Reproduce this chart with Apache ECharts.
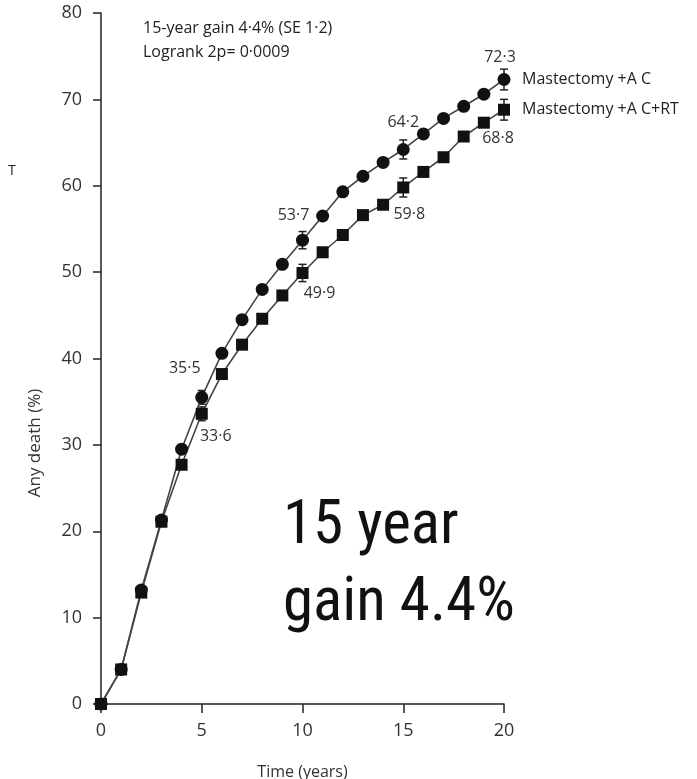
<!DOCTYPE html>
<html>
<head>
<meta charset="utf-8">
<style>
  html, body { margin: 0; padding: 0; background: #fff; }
  #chart { width: 697px; height: 779px; }
</style>
<script src="https://cdn.jsdelivr.net/npm/echarts@6/dist/echarts.min.js"></script>
</head>
<body>
<div id="chart"></div>
<script>
// Cumulative risk of any death (%) by year since randomisation
const years = [0, 1, 2, 3, 4, 5, 6, 7, 8, 9, 10, 11, 12, 13, 14, 15, 16, 17, 18, 19, 20];
const mastAC = [0, 4.0, 13.2, 21.3, 29.5, 35.5, 40.6, 44.5, 48.0, 50.9, 53.7, 56.5, 59.3, 61.1, 62.7, 64.2, 66.0, 67.8, 69.2, 70.6, 72.3];
const mastACRT = [0, 4.0, 12.9, 21.1, 27.7, 33.6, 38.2, 41.6, 44.6, 47.3, 49.9, 52.3, 54.3, 56.6, 57.8, 59.8, 61.6, 63.3, 65.7, 67.3, 68.8];

// Years with standard-error bars and value labels
const labelYears = [5, 10, 15, 20];
const seAC = [0.8, 1.0, 1.1, 1.2];
const seACRT = [0.8, 1.0, 1.1, 1.2];

const seriesNames = ['Mastectomy +A C', 'Mastectomy +A C+RT'];
const xTicks = [0, 5, 10, 15, 20];
const yTicks = [0, 10, 20, 30, 40, 50, 60, 70, 80];

const fmt = v => v.toFixed(1).replace('.', '\u00b7');
const labelFont = "'Open Sans', 'DejaVu Sans', sans-serif";
const bigFont = "'Liberation Sans Narrow', 'Arial Narrow', 'Roboto Condensed', sans-serif";

// label placement per labelled year: [position, offset]
const acLabelPos = {5: ['top', [-17, -9]], 10: ['top', [-9, -5]], 15: ['top', [0, -8]], 20: ['top', [-4, -3]]};
const rtLabelPos = {5: ['bottom', [14, 4]], 10: ['bottom', [17, 1]], 15: ['bottom', [6, 8]], 20: ['bottom', [-6, 10]]};

function buildData(values, posMap) {
  return years.map((yr, i) => {
    const item = { value: [yr, values[i]] };
    if (posMap[yr]) {
      item.label = {
        show: true,
        position: posMap[yr][0],
        offset: posMap[yr][1],
        formatter: () => fmt(values[i]),
        fontSize: 16,
        color: '#333',
        fontFamily: labelFont
      };
    }
    return item;
  });
}

function errorData(values, se) {
  return labelYears.map((yr, k) => [yr, values[years.indexOf(yr)], se[k]]);
}

function renderError(params, api) {
  const x = api.value(0), y = api.value(1), s = api.value(2);
  const top = api.coord([x, y + s]);
  const bot = api.coord([x, y - s]);
  const cap = 4;
  const st = { stroke: '#222', lineWidth: 1.5 };
  return {
    type: 'group',
    children: [
      { type: 'line', shape: { x1: top[0], y1: top[1], x2: bot[0], y2: bot[1] }, style: st },
      { type: 'line', shape: { x1: top[0] - cap, y1: top[1], x2: top[0] + cap, y2: top[1] }, style: st },
      { type: 'line', shape: { x1: bot[0] - cap, y1: bot[1], x2: bot[0] + cap, y2: bot[1] }, style: st }
    ]
  };
}

const chart = echarts.init(document.getElementById('chart'), null, { renderer: 'canvas' });

chart.setOption({
  animation: false,
  backgroundColor: '#fff',
  grid: { left: 101, right: 193, top: 13, bottom: 75, containLabel: false, outerBoundsMode: 'none' },
  xAxis: {
    type: 'value',
    min: xTicks[0],
    max: xTicks[xTicks.length - 1],
    interval: 5,
    name: 'Time (years)',
    nameLocation: 'middle',
    nameGap: 60,
    nameTextStyle: { fontSize: 16, color: '#333', fontFamily: labelFont },
    axisLine: { lineStyle: { color: '#222', width: 1.5 } },
    axisTick: { show: true, length: 9, inside: false, lineStyle: { color: '#222', width: 1.5 } },
    axisLabel: { fontSize: 18, color: '#333', margin: 18, fontFamily: labelFont },
    splitLine: { show: false }
  },
  yAxis: {
    type: 'value',
    min: yTicks[0],
    max: yTicks[yTicks.length - 1],
    interval: 10,
    axisLine: { show: true, lineStyle: { color: '#222', width: 1.5 } },
    axisTick: { show: true, length: 8, inside: false, lineStyle: { color: '#222', width: 1.5 } },
    axisLabel: { fontSize: 18, color: '#333', margin: 19, fontFamily: labelFont },
    splitLine: { show: false }
  },
  series: [
    {
      name: seriesNames[0],
      type: 'line',
      data: buildData(mastAC, acLabelPos),
      symbol: 'circle',
      symbolSize: 13,
      showSymbol: true,
      lineStyle: { color: '#444', width: 1.6 },
      itemStyle: { color: '#111' },
      z: 3,
      endLabel: {
        show: true,
        formatter: seriesNames[0],
        distance: 18,
        fontSize: 16,
        color: '#222',
        fontFamily: labelFont
      }
    },
    {
      name: seriesNames[1],
      type: 'line',
      data: buildData(mastACRT, rtLabelPos),
      symbol: 'rect',
      symbolSize: 12,
      showSymbol: true,
      lineStyle: { color: '#444', width: 1.6 },
      itemStyle: { color: '#111' },
      z: 3,
      endLabel: {
        show: true,
        formatter: seriesNames[1],
        distance: 18,
        fontSize: 16,
        color: '#222',
        fontFamily: labelFont
      }
    },
    {
      type: 'custom',
      renderItem: renderError,
      data: errorData(mastAC, seAC),
      z: 2,
      silent: true
    },
    {
      type: 'custom',
      renderItem: renderError,
      data: errorData(mastACRT, seACRT),
      z: 2,
      silent: true
    }
  ],
  graphic: [
    {
      type: 'text', left: 143, top: 20,
      style: { text: '15-year gain 4\u00b74% (SE 1\u00b72)', fontSize: 16, fill: '#222', fontFamily: labelFont }
    },
    {
      type: 'text', left: 143, top: 44,
      style: { text: 'Logrank 2p= 0\u00b70009', fontSize: 16, fill: '#222', fontFamily: labelFont }
    },
    {
      type: 'text', left: 8, top: 164,
      style: { text: 'T', fontSize: 14, fill: '#222', fontFamily: labelFont }
    },
    {
      type: 'text', x: 35, y: 443, rotation: Math.PI / 2,
      style: { text: 'Any death (%)', fontSize: 17, fill: '#333', fontFamily: labelFont, align: 'center', verticalAlign: 'middle' }
    },
    {
      type: 'text', left: 283, top: 489,
      style: { text: '15 year\ngain 4.4%', fontSize: 61, lineHeight: 77, fill: '#111', fontFamily: bigFont }
    }
  ]
});
</script>
</body>
</html>
